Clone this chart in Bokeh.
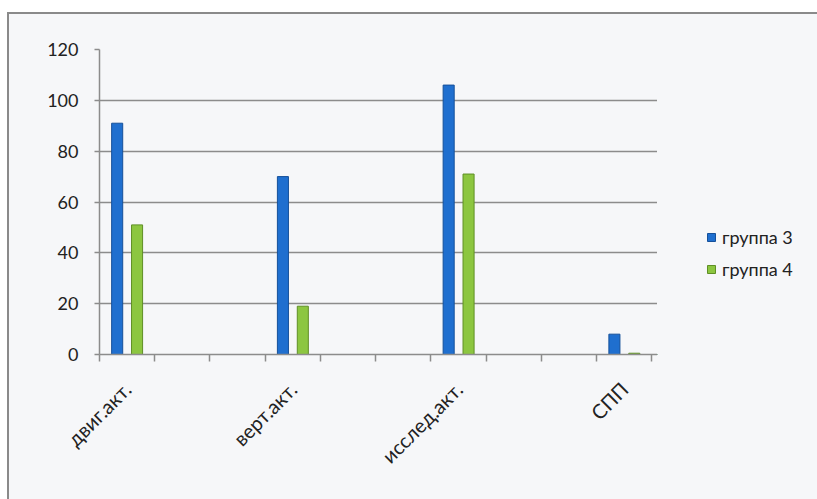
from bokeh.plotting import figure
from bokeh.models import ColumnDataSource, Range1d, FixedTicker, Legend, LegendItem
from bokeh.layouts import row
from bokeh.embed import file_html
from bokeh.resources import INLINE

# ---- data ----
categories = ["двиг.акт.", "верт.акт.", "исслед.акт.", "СПП"]
cat_slot = [0, 3, 6, 9]          # slot of each labelled category among 10 axis slots
n_slots = 10
group3 = [91, 70, 106, 8]
group4 = [51, 19, 71, 0.5]
series_names = ["группа 3", "группа 4"]
y_ticks = [0, 20, 40, 60, 80, 100, 120]

BLUE = "#1f6fcf"
BLUE_EDGE = "#15509a"
GREEN = "#8cc640"
GREEN_EDGE = "#5f8f25"
GRID = "#8c8c8c"
FONT = "Lato"
BG = "#f6f7f9"

centers = [s + 0.5 for s in cat_slot]
src3 = ColumnDataSource(dict(x=[c - 0.18 for c in centers], top=group3))
src4 = ColumnDataSource(dict(x=[c + 0.18 for c in centers], top=group4))

p = figure(width=648, height=485, output_backend="svg", toolbar_location=None,
           x_range=Range1d(0, n_slots + 0.1), y_range=Range1d(0, 120),
           min_border_left=90, min_border_right=0, min_border_top=35,
           min_border_bottom=145)
p.background_fill_color = BG
p.border_fill_color = BG
p.outline_line_color = None

r3 = p.vbar(x="x", top="top", width=0.2, source=src3, fill_color=BLUE,
            line_color=BLUE_EDGE, line_width=1)
r4 = p.vbar(x="x", top="top", width=0.2, source=src4, fill_color=GREEN,
            line_color=GREEN_EDGE, line_width=1)

# x axis
p.xaxis.ticker = FixedTicker(ticks=centers, minor_ticks=list(range(n_slots + 1)))
p.xaxis.major_label_overrides = {c: lab for c, lab in zip(centers, categories)}
p.xaxis.major_label_orientation = 0.785398
p.xaxis.major_tick_line_color = None
p.xaxis.minor_tick_line_color = GRID
p.xaxis.minor_tick_line_width = 1.5
p.xaxis.minor_tick_out = 7
p.xaxis.minor_tick_in = 0
p.xaxis.axis_line_color = GRID
p.xaxis.axis_line_width = 1.5
p.xaxis.major_label_text_font = FONT
p.xaxis.major_label_text_font_size = "20px"
p.xaxis.major_label_text_color = "#222222"
p.xaxis.major_label_standoff = 24

# y axis
p.yaxis.ticker = FixedTicker(ticks=y_ticks)
p.yaxis.axis_line_color = GRID
p.yaxis.axis_line_width = 1.5
p.yaxis.major_tick_line_color = GRID
p.yaxis.major_tick_line_width = 1.5
p.yaxis.major_tick_out = 5
p.yaxis.major_tick_in = 0
p.yaxis.minor_tick_line_color = None
p.yaxis.major_label_text_font = FONT
p.yaxis.major_label_text_font_size = "18px"
p.yaxis.major_label_text_color = "#222222"
p.yaxis.major_label_standoff = 16

p.xgrid.grid_line_color = None
p.ygrid.ticker = FixedTicker(ticks=y_ticks)
p.ygrid.grid_line_color = GRID
p.ygrid.grid_line_width = 1.5

# legend panel to the right of the plot (swatch renderers hold one off-range point)
lf = figure(width=170, height=485, output_backend="svg", toolbar_location=None,
            x_axis_type=None, y_axis_type=None, min_border=0,
            x_range=Range1d(0, 1), y_range=Range1d(0, 1))
lf.background_fill_color = BG
lf.border_fill_color = BG
lf.outline_line_color = None
lf.grid.grid_line_color = None
l3 = lf.vbar(x=[-5], top=[-5], width=0.1, fill_color=BLUE, line_color=BLUE_EDGE)
l4 = lf.vbar(x=[-5], top=[-5], width=0.1, fill_color=GREEN, line_color=GREEN_EDGE)

legend = Legend(items=[LegendItem(label=series_names[0], renderers=[l3]),
                       LegendItem(label=series_names[1], renderers=[l4])],
                location=(49, 74), orientation="vertical")
legend.background_fill_alpha = 0
legend.border_line_color = None
legend.margin = 0
legend.padding = 0
legend.glyph_width = 10
legend.glyph_height = 10
legend.label_standoff = 6
legend.spacing = 10
legend.label_text_font = FONT
legend.label_text_font_size = "18px"
legend.label_text_color = "#222222"
lf.add_layout(legend)

layout = row(p, lf)
layout.margin = (12, 0, 0, 7)
layout.styles = {"border-top": "2px solid #8a8a8a", "border-left": "2px solid #8a8a8a",
                 "background-color": BG}

open("out.html", "w").write(file_html(layout, INLINE))
